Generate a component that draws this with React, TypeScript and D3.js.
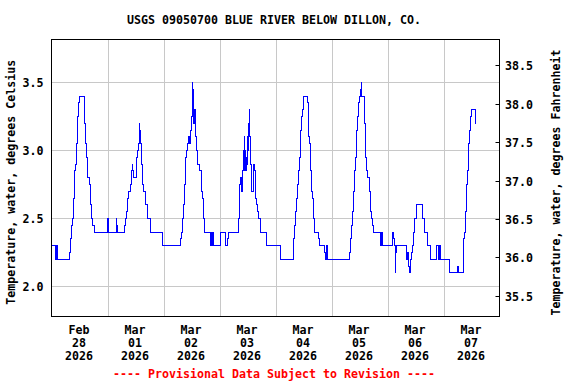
import * as d3 from 'd3';

// readings: hours since Feb 28 2026 00:00 and water temperature (deg C), as change points
const hoursSinceStart = [
  0, 1.9, 2.3, 2.45, 2.6, 2.75, 7.73, 8.16, 8.58, 9.01, 9.44, 9.87, 10.3, 10.73, 11.16, 11.58, 12.01,
  14.16, 14.73, 15.16, 15.59, 16.3, 16.73, 17.16, 17.73, 18.3, 24.2, 24.45, 24.6, 27.87, 28.0, 28.3,
  31.3, 31.73, 32.16, 32.59, 33.02, 33.73, 34.3, 34.6, 34.73, 35.16, 36.44, 36.87, 37.3, 37.59, 37.87,
  38.16, 38.59, 39.01, 39.44, 40.3, 41.16, 42.44, 47.6, 47.73,
  55.3, 55.73, 56.16, 56.59, 57.02, 57.45, 57.87, 58.3, 58.73, 59.16, 59.45, 59.73, 60.02, 60.3, 60.59,
  60.73, 60.87, 61.02, 61.3, 61.59, 61.88, 62.3, 62.73, 63.3, 64.16, 64.59, 65.02, 65.45, 65.73,
  68.16, 68.3, 68.45, 68.6, 68.73, 69.02, 69.3, 72.3, 74.7, 75.6, 76.02,
  80.02, 80.45, 80.73, 81.16, 81.45, 81.73, 82.02, 82.45, 82.73, 82.88, 83.16, 83.3, 83.45, 83.73,
  84.02, 84.3, 84.59, 84.88, 85.02, 85.45, 85.59, 86.73, 87.02, 87.3, 88.02, 88.45, 88.88, 89.59,
  92.02, 98.3, 103.73, 104.16, 104.59, 105.02, 105.45, 105.88, 106.3, 106.73, 107.16, 107.59, 108.02,
  109.73, 110.16, 110.59, 111.16, 111.59, 112.02, 112.45, 112.88, 114.45, 114.88, 117.16, 117.45,
  118.02, 118.3, 127.73, 128.16, 128.59, 129.02, 129.45, 129.88, 130.3, 130.73, 131.16, 131.59,
  132.02, 132.45, 132.88, 133.05, 134.3, 134.73, 135.16, 135.59, 136.45, 136.88, 137.3, 137.73,
  138.16, 140.88, 141.1, 141.3, 141.5, 141.9, 146.02, 146.4, 146.88, 147.3, 147.59, 147.88,
  152.16, 152.59, 152.88, 153.31, 154.02, 154.45, 154.88, 155.31, 155.74, 156.45, 158.88, 160.02,
  161.31, 162.6, 164.88, 166.02, 166.45, 166.74, 170.6, 174.17, 174.45, 176.45, 176.74, 177.17,
  177.6, 178.02, 178.45, 178.74, 179.17, 179.6, 180.02, 181.74, 182.03,
];
const tempC = [
  2.3, 2.2, 2.3, 2.2, 2.3, 2.2, 2.25, 2.35, 2.45, 2.5, 2.65, 2.85, 2.9, 3.05, 3.25, 3.35, 3.4,
  3.2, 3.05, 2.95, 2.8, 2.75, 2.6, 2.5, 2.45, 2.4, 2.5, 2.45, 2.4, 2.5, 2.45, 2.4,
  2.45, 2.5, 2.55, 2.65, 2.7, 2.75, 2.85, 2.9, 2.85, 2.8, 2.95, 3.0, 3.05, 3.2, 3.15,
  3.05, 2.9, 2.75, 2.7, 2.6, 2.5, 2.4, 2.35, 2.3,
  2.35, 2.4, 2.5, 2.6, 2.75, 2.95, 3.0, 3.05, 3.1, 3.05, 3.1, 3.15, 3.25, 3.5, 3.25,
  3.45, 3.3, 3.2, 3.3, 3.2, 3.1, 3.0, 2.9, 2.85, 2.7, 2.65, 2.5, 2.45, 2.4,
  2.3, 2.4, 2.3, 2.4, 2.3, 2.4, 2.3, 2.4, 2.3, 2.35, 2.4,
  2.5, 2.55, 2.75, 2.8, 2.7, 2.8, 2.85, 3.0, 3.1, 2.85, 3.0, 2.95, 2.85, 2.9,
  3.1, 3.0, 3.2, 3.3, 3.1, 2.9, 2.7, 2.9, 2.85, 2.65, 2.6, 2.55, 2.5, 2.4,
  2.3, 2.2, 2.35, 2.45, 2.55, 2.65, 2.75, 2.85, 2.95, 3.15, 3.25, 3.3, 3.4,
  3.35, 3.1, 3.05, 2.85, 2.7, 2.65, 2.5, 2.4, 2.35, 2.3, 2.25, 2.2,
  2.3, 2.2, 2.25, 2.35, 2.45, 2.55, 2.7, 2.85, 2.95, 3.15, 3.25, 3.35,
  3.4, 3.45, 3.5, 3.4, 3.2, 2.95, 2.85, 2.8, 2.7, 2.55, 2.5, 2.45,
  2.4, 2.3, 2.35, 2.3, 2.4, 2.3, 2.4, 2.35, 2.3, 2.1, 2.25, 2.3,
  2.2, 2.25, 2.15, 2.1, 2.2, 2.25, 2.3, 2.4, 2.5, 2.6, 2.5, 2.4,
  2.3, 2.2, 2.3, 2.2, 2.3, 2.2, 2.1, 2.15, 2.1, 2.15, 2.35, 2.4,
  2.55, 2.75, 2.85, 3.05, 3.15, 3.25, 3.3, 3.2, 3.2,
];

const dayMonths = ['Feb', 'Mar', 'Mar', 'Mar', 'Mar', 'Mar', 'Mar', 'Mar'];
const dayNumbers = ['28', '01', '02', '03', '04', '05', '06', '07'];
const dayYears = ['2026', '2026', '2026', '2026', '2026', '2026', '2026', '2026'];
const celsiusTicks = [2.0, 2.5, 3.0, 3.5];
const fahrenheitTicks = [35.5, 36.0, 36.5, 37.0, 37.5, 38.0, 38.5];

const W = 576;
const H = 384;
const plot = { left: 51.5, right: 499.5, top: 39.5, bottom: 316.5 };
const font = '"DejaVu Sans Mono", monospace';

export default function App() {
  const x = d3.scaleLinear().domain([0, 192]).range([plot.left, plot.right]);
  const y = d3.scaleLinear().domain([1.7794, 3.8162]).range([plot.bottom, plot.top]);
  const yF = d3.scaleLinear().domain([35.24, 38.838]).range([plot.bottom, plot.top]);

  const points = hoursSinceStart.map((h, i) => [h, tempC[i]] as [number, number]);
  const line = d3.line<[number, number]>()
    .x(d => x(d[0]))
    .y(d => y(d[1]))
    .curve(d3.curveStepAfter);

  const midnights = d3.range(1, 8).map(d => d * 24);

  return (
    <svg width={W} height={H} style={{ position: 'absolute', left: 0, top: 0, background: '#fff' }}
      fontFamily={font} fontWeight="bold" fontSize={11.63}>
      <rect x={0} y={0} width={W} height={H} fill="#fff" />

      {/* grid */}
      {midnights.map(h => (
        <line key={'v' + h} x1={Math.round(x(h)) + 0.5} x2={Math.round(x(h)) + 0.5}
          y1={plot.top} y2={plot.bottom} stroke="#c8c8c8" strokeWidth={1} />
      ))}
      {celsiusTicks.map(t => (
        <line key={'h' + t} x1={plot.left} x2={plot.right}
          y1={Math.floor(y(t)) + 0.5} y2={Math.floor(y(t)) + 0.5} stroke="#c8c8c8" strokeWidth={1} />
      ))}

      {/* data */}
      <path d={line(points) ?? ''} fill="none" stroke="#0000ff" strokeWidth={1} shapeRendering="crispEdges" />

      {/* frame */}
      <rect x={plot.left} y={plot.top} width={plot.right - plot.left} height={plot.bottom - plot.top}
        fill="none" stroke="#000" strokeWidth={1} />

      {/* left axis labels */}
      {celsiusTicks.map(t => (
        <text key={'lc' + t} x={43.5} y={Math.floor(y(t)) + 4.5} textAnchor="end" fill="#000">
          {t.toFixed(1)}
        </text>
      ))}

      {/* right axis ticks + labels */}
      {fahrenheitTicks.map(t => {
        const ty = Math.floor(yF(t)) + 0.5;
        return (
          <g key={'rf' + t}>
            <line x1={plot.right - 4} x2={plot.right} y1={ty} y2={ty} stroke="#000" strokeWidth={1} />
            <text x={505} y={ty + 4} textAnchor="start" fill="#000">{t.toFixed(1)}</text>
          </g>
        );
      })}

      {/* x labels at noon */}
      {dayNumbers.map((d, i) => {
        const cx = x(i * 24 + 12) - 0.5;
        return (
          <text key={'x' + i} textAnchor="middle" fill="#000">
            <tspan x={cx} y={334}>{dayMonths[i]}</tspan>
            <tspan x={cx} y={347}>{d}</tspan>
            <tspan x={cx} y={360}>{dayYears[i]}</tspan>
          </text>
        );
      })}

      {/* title */}
      <text x={274} y={24} textAnchor="middle" fill="#000">USGS 09050700 BLUE RIVER BELOW DILLON, CO.</text>

      {/* axis titles */}
      <text transform="translate(15,182.2) rotate(-90)" textAnchor="middle" fill="#000">
        Temperature, water, degrees Celsius
      </text>
      <text transform="translate(559.5,182.5) rotate(-90)" textAnchor="middle" fill="#000">
        Temperature, water, degrees Fahrenheit
      </text>

      {/* footer */}
      <text x={274} y={378} textAnchor="middle" fill="#ff0000">
        ---- Provisional Data Subject to Revision ----
      </text>
    </svg>
  );
}
